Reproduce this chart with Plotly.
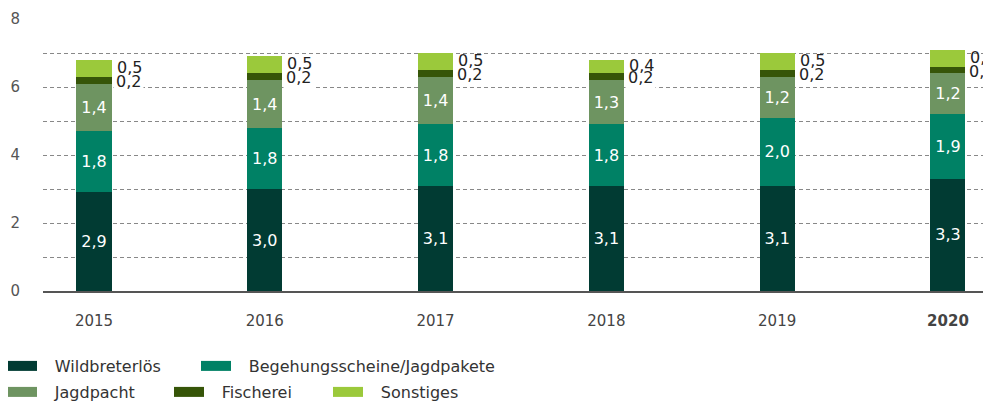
import plotly.graph_objects as go

years = ["2015", "2016", "2017", "2018", "2019", "2020"]
tick_labels = ["2015", "2016", "2017", "2018", "2019", "<b>2020</b>"]
wildbret = [2.9, 3.0, 3.1, 3.1, 3.1, 3.3]
begehung = [1.8, 1.8, 1.8, 1.8, 2.0, 1.9]
jagdpacht = [1.4, 1.4, 1.4, 1.3, 1.2, 1.2]
fischerei = [0.2, 0.2, 0.2, 0.2, 0.2, 0.2]
sonstiges = [0.5, 0.5, 0.5, 0.4, 0.5, 0.5]

names = ["Wildbreterlös", "Begehungsscheine/Jagdpakete", "Jagdpacht", "Fischerei", "Sonstiges"]
colors = ["#013b33", "#008165", "#6e9461", "#365508", "#9bc93b"]
series = [wildbret, begehung, jagdpacht, fischerei, sonstiges]

FONT = "DejaVu Sans"
W, H = 983, 395  # page body has an 8px margin
ML, MR, MT, MB = 35, 0, 11, 112
PW = W - ML - MR
fig = go.Figure()

for k, (nm, col, vals) in enumerate(zip(names, colors, series)):
    inside = k < 3
    fig.add_trace(go.Bar(
        x=years, y=vals, name=nm, marker=dict(color=col, line=dict(width=0)),
        width=0.205, showlegend=False,
        texttemplate="%{y:.1f}" if inside else None,
        textposition="inside" if inside else "none",
        insidetextanchor="middle", textangle=0, constraintext="none",
        textfont=dict(family=FONT, size=16, color="white"),
        hoverinfo="x+y+name",
    ))

# legend entries: one legend per entry so each can be placed like the reference
legend_pos = [(8, 366), (202, 366), (8, 392), (175, 392), (334, 392)]  # swatch left, row centre (page px)
legend_ids = ["legend", "legend2", "legend3", "legend4", "legend5"]
legend_layouts = {}
for nm, col, lg, (px, py) in zip(names, colors, legend_ids, legend_pos):
    fig.add_trace(go.Scatter(
        x=[None], y=[None], mode="lines", name="\u2002\u2009\u200a" + nm,
        line=dict(color=col, width=10), legend=lg, showlegend=True,
    ))
    legend_layouts[lg] = dict(
        orientation="h", xref="paper", yref="container",
        x=(px - 8 - 6 - ML) / PW, y=(H - (py - 8)) / H, xanchor="left", yanchor="middle",
        font=dict(family=FONT, size=16, color="#333"),
        itemclick=False, itemdoubleclick=False, bgcolor="rgba(0,0,0,0)",
    )

# outside labels for Fischerei (with white box) and Sonstiges
annotations = []
for i, yr in enumerate(years):
    base3 = wildbret[i] + begehung[i] + jagdpacht[i]
    yf = base3 + fischerei[i] / 2
    annotations.append(dict(
        x=i + 0.1025, y=yf, xref="x", yref="y", xanchor="left", yanchor="middle",
        text=f"{fischerei[i]:.1f}".replace(".", ","), showarrow=False, xshift=1, yshift=-1,
        font=dict(family=FONT, size=16, color="#222"),
        bgcolor="white", borderpad=2,
    ))
for i, yr in enumerate(years):
    base4 = wildbret[i] + begehung[i] + jagdpacht[i] + fischerei[i]
    ys = base4 + sonstiges[i] / 2
    annotations.append(dict(
        x=i + 0.1025, y=ys, xref="x", yref="y", xanchor="left", yanchor="middle",
        text=f"{sonstiges[i]:.1f}".replace(".", ","), showarrow=False, xshift=3, yshift=1,
        font=dict(family=FONT, size=16, color="#222"),
    ))

fig.update_layout(
    width=W, height=H,
    margin=dict(l=ML, r=MR, t=MT, b=MB, autoexpand=False),
    paper_bgcolor="white", plot_bgcolor="white",
    barmode="stack", separators=",.",
    font=dict(family=FONT, size=14, color="#444"),
    annotations=annotations,
    xaxis=dict(
        type="category", range=[-0.2986, 5.252],
        tickvals=years, ticktext=tick_labels,
        showgrid=False, showline=True, linecolor="#555", linewidth=2,
        ticks="", tickfont=dict(family=FONT, size=15, color="#444"),
        ticklabelstandoff=15,
    ),
    yaxis=dict(
        range=[0, 8], dtick=2, tick0=0,
        showgrid=True, gridcolor="#888", gridwidth=1, griddash="4px,3px",
        minor=dict(dtick=1, showgrid=True, gridcolor="#888", gridwidth=1, griddash="4px,3px"),
        zeroline=False, showline=False, ticks="",
        tickfont=dict(family=FONT, size=15, color="#555"),
        ticklabelstandoff=22,
    ),
    **legend_layouts,
)

fig.write_html("out.html")
